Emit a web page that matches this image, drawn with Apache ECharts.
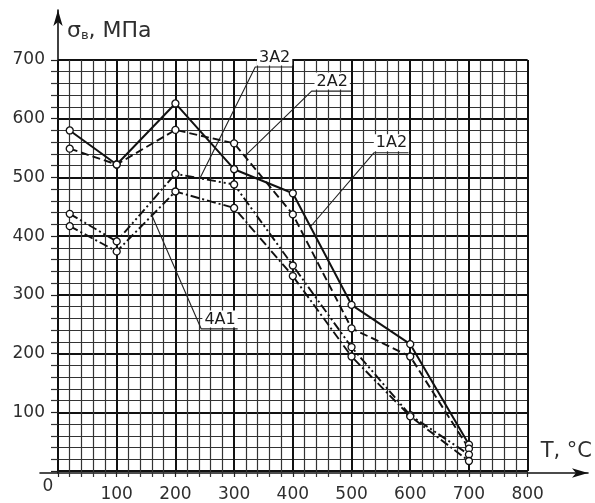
<!DOCTYPE html>
<html>
<head>
<meta charset="utf-8">
<script src="https://cdn.jsdelivr.net/npm/echarts@6/dist/echarts.min.js"></script>
<style>
html,body{margin:0;padding:0;background:#fff;}
#c{width:595px;height:503px;}
</style>
</head>
<body>
<div id="c"></div>
<script>
// ---- data ----
const T = [20, 100, 200, 300, 400, 500, 600, 700];
const s1A2 = [580, 522, 626, 514, 473, 283, 216, 45];
const s2A2 = [549, 522, 581, 558, 437, 243, 195, 38];
const s3A2 = [438, 391, 506, 488, 350, 211, 95, 28];
const s4A1 = [417, 374, 476, 448, 332, 195, 93, 17];

// curve labels: leader end on curve, underline start, underline end
const lead1A2 = [[430, 416], [538, 542], [597, 542]];
const lead2A2 = [[319, 537], [432, 647], [499, 647]];
const lead3A2 = [[242, 499], [336, 688], [400, 688]];
const lead4A1 = [[158, 440], [244, 242], [306, 242]];
// label text anchor (centre of the text, on the underline)
const labelNames = ['1A2', '2A2', '3A2', '4A1'];
const labelAt = [[568, 542], [467, 647], [369, 688], [276, 242]];

const FONT = 'DejaVu Sans';
const TXT = '#2e2e2e';

function pts(ys) { return T.map((t, i) => [t, ys[i]]); }

function curve(name, ys, type, w) {
  return {
    name: name, type: 'line', xAxisIndex: 0, yAxisIndex: 0,
    data: pts(ys),
    symbol: 'circle', symbolSize: 7,
    itemStyle: { color: '#fff', borderColor: '#111', borderWidth: 1.3 },
    lineStyle: { color: '#111', width: w, type: type },
    z: 5, animation: false
  };
}

function leader(arr) {
  return {
    type: 'line', xAxisIndex: 0, yAxisIndex: 0, clip: false,
    data: arr, symbol: 'none', silent: true,
    lineStyle: { color: '#222', width: 1.1 },
    z: 6, animation: false
  };
}

const chart = echarts.init(document.getElementById('c'), null, { renderer: 'canvas' });
chart.setOption({
  backgroundColor: '#fff',
  animation: false,
  grid: [
    { left: 58, right: 61, top: 60, bottom: 30 },
    { left: 40, right: 7, top: 60, bottom: 30 },
    { left: 58, right: 10, top: 10, bottom: 30 }
  ],
  xAxis: [
    {
      gridIndex: 0, type: 'value', min: 0, max: 800, interval: 100,
      axisLine: { show: false },
      axisTick: { show: true, inside: false, length: 6, lineStyle: { color: '#222', width: 1.2 } },
      minorTick: { show: true, splitNumber: 5, length: 6, lineStyle: { color: '#333', width: 1.2 } },
      splitLine: { show: true, lineStyle: { color: '#111', width: 2 } },
      minorSplitLine: { show: true, lineStyle: { color: '#333', width: 1.2 } },
      axisLabel: {
        margin: 7,
        formatter: v => v === 0 ? '{z|0}' : '{n|' + v + '}',
        rich: {
          z: { fontFamily: FONT, fontSize: 17, color: TXT, padding: [0, 20, 0, 0] },
          n: { fontFamily: FONT, fontSize: 17, color: TXT, padding: [8, 0, 0, 0] }
        }
      },
      name: 'T, °C', nameLocation: 'end', nameGap: 13,
      nameTextStyle: { fontFamily: FONT, fontSize: 21, color: TXT, align: 'left', verticalAlign: 'bottom', padding: [0, 0, 9, 0] }
    },
    {
      gridIndex: 1, type: 'value', min: 0, max: 1,
      axisLine: { show: true, onZero: false, symbol: ['none', 'arrow'], symbolSize: [7, 16], lineStyle: { color: '#111', width: 1.6 } },
      axisTick: { show: false }, axisLabel: { show: false }, splitLine: { show: false }
    },
    { gridIndex: 2, type: 'value', show: false, min: 0, max: 1 }
  ],
  yAxis: [
    {
      gridIndex: 0, type: 'value', min: 0, max: 700, interval: 100,
      axisLine: { show: false },
      axisTick: { show: true, length: 7, lineStyle: { color: '#222', width: 1.2 } },
      minorTick: { show: true, splitNumber: 5, length: 7, lineStyle: { color: '#333', width: 1.2 } },
      splitLine: { show: true, lineStyle: { color: '#111', width: 2 } },
      minorSplitLine: { show: true, lineStyle: { color: '#333', width: 1.2 } },
      axisLabel: {
        margin: 13, fontFamily: FONT, fontSize: 17, color: TXT,
        formatter: v => v === 0 ? '' : String(v)
      }
    },
    { gridIndex: 1, type: 'value', show: false, min: 0, max: 1 },
    {
      gridIndex: 2, type: 'value', min: 0, max: 1,
      axisLine: { show: true, onZero: false, symbol: ['none', 'arrow'], symbolSize: [7, 16], lineStyle: { color: '#111', width: 1.6 } },
      axisTick: { show: false }, axisLabel: { show: false }, splitLine: { show: false },
      name: '{a|σ}{b|в}{a|, МПа}', nameLocation: 'end', nameGap: -21,
      nameTextStyle: {
        align: 'left', verticalAlign: 'middle', padding: [0, 0, 0, 9],
        rich: {
          a: { fontFamily: FONT, fontSize: 22, color: TXT },
          b: { fontFamily: FONT, fontSize: 13, color: TXT, padding: [10, 0, 0, 0] }
        }
      }
    }
  ],
  series: [
    curve('1A2', s1A2, 'solid', 2),
    curve('2A2', s2A2, [8, 4], 1.9),
    curve('3A2', s3A2, [9, 3, 2, 3, 2, 3], 1.9),
    curve('4A1', s4A1, [9, 3, 2, 3], 1.9),
    leader(lead1A2),
    leader(lead2A2),
    leader(lead3A2),
    leader(lead4A1),
    {
      type: 'scatter', xAxisIndex: 0, yAxisIndex: 0, clip: false, silent: true,
      data: labelAt.map((p, i) => ({ value: p, name: labelNames[i] })),
      symbol: 'circle', symbolSize: 1,
      itemStyle: { color: 'rgba(0,0,0,0)' },
      label: {
        show: true, formatter: p => p.name, position: 'top', distance: 1,
        fontFamily: FONT, fontSize: 16, color: '#1a1a1a', opacity: 1,
        textBorderWidth: 0, textShadowBlur: 0,
        backgroundColor: '#fff', borderWidth: 0, padding: [1, 2, 0, 2]
      },
      emphasis: { disabled: true },
      z: 7, animation: false
    }
  ]
});
</script>
</body>
</html>
